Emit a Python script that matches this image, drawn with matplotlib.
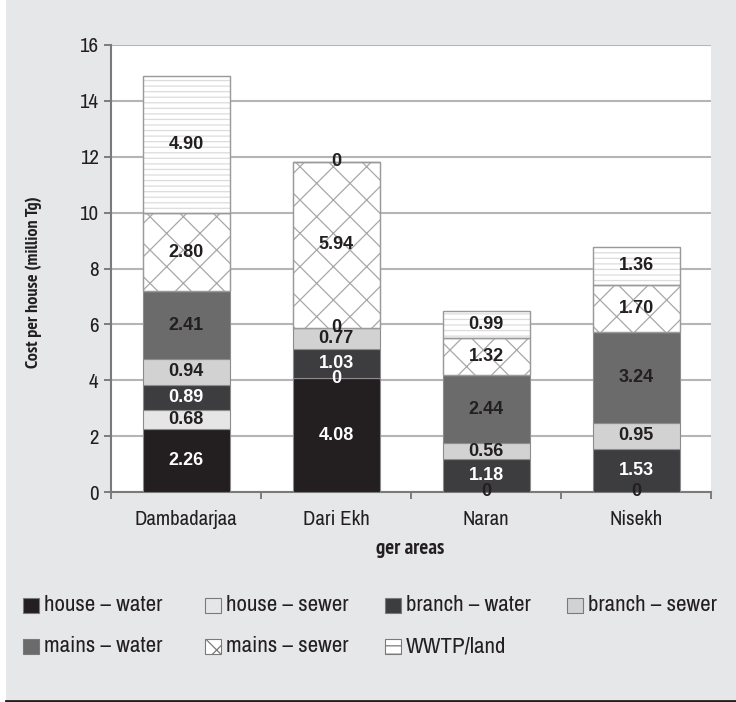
import matplotlib
matplotlib.use("Agg")
import matplotlib.pyplot as plt
from matplotlib.patches import Rectangle
from matplotlib.lines import Line2D
import numpy as np

areas = ["Dambadarjaa", "Dari Ekh", "Naran", "Nisekh"]
series = [
    "house \u2013 water",
    "house \u2013 sewer",
    "branch \u2013 water",
    "branch \u2013 sewer",
    "mains \u2013 water",
    "mains \u2013 sewer",
    "WWTP/land",
]
house_water = [2.26, 4.08, 0.0, 0.0]
house_sewer = [0.68, 0.0, 0.0, 0.0]
branch_water = [0.89, 1.03, 1.18, 1.53]
branch_sewer = [0.94, 0.77, 0.56, 0.95]
mains_water = [2.41, 0.0, 2.44, 3.24]
mains_sewer = [2.80, 5.94, 1.32, 1.70]
wwtp_land = [4.90, 0.0, 0.99, 1.36]
# Naran and Nisekh have no house-sewer label drawn
show_label = [
    [True, True, True, True],
    [True, True, False, False],
    [True, True, True, True],
    [True, True, True, True],
    [True, True, True, True],
    [True, True, True, True],
    [True, True, True, True],
]

values = [house_water, house_sewer, branch_water, branch_sewer,
          mains_water, mains_sewer, wwtp_land]
faces = ["#231f20", "#e6e6e6", "#3d3d3f", "#d2d2d2", "#6b6b6b", "white", "white"]
hatches = [None, None, None, None, None, "x", "---"]
hatch_cols = [None, None, None, None, None, "#a8a8a8", "#dcdcdc"]
dark = [True, False, True, False, False, False, False]

condensed = ["Archivo Narrow", "DejaVu Sans"]
condensed_bold = ["PT Sans Narrow", "Archivo Narrow", "DejaVu Sans"]
plt.rcParams["hatch.linewidth"] = 0.9

W, H = 736, 702
fig = plt.figure(figsize=(W / 100, H / 100), dpi=100, facecolor="#e6e7e9")
fig.patches.append(Rectangle((0, 0), 6 / W, 1, transform=fig.transFigure,
                             facecolor="white", edgecolor="none", zorder=-5))
fig.add_artist(Line2D([6 / W, 1], [1.5 / H, 1.5 / H], color="#231f20",
                      lw=2, transform=fig.transFigure))

ax = fig.add_axes([111 / W, 210 / H, 600 / W, 447 / H])
ax.set_facecolor("white")

x = np.arange(len(areas))
width = 0.58
bottom = np.zeros(len(areas))
for i, vals in enumerate(values):
    vals = np.array(vals)
    ax.bar(x, vals, width, bottom=bottom, color=faces[i],
           edgecolor=hatch_cols[i] or "#8c8c8c", linewidth=0.8,
           hatch=hatches[i], zorder=3)
    if hatches[i]:
        # outline drawn separately so the hatch can stay lighter
        ax.bar(x, vals, width, bottom=bottom, fill=False,
               edgecolor="#9a9a9a", linewidth=1.0, zorder=4)
    for j, v in enumerate(vals):
        if not show_label[i][j]:
            continue
        y = bottom[j] + v / 2
        if v == 0:
            below_dark = i > 0 and bottom[j] > 0 and dark[i - 1]
            col = "white" if below_dark else "#231f20"
        else:
            col = "white" if dark[i] else "#231f20"
        txt = "0" if v == 0 else f"{v:.2f}"
        ax.text(x[j], y, txt, ha="center", va="center", fontsize=13,
                fontweight="bold", color=col,
                family=["Liberation Sans", "DejaVu Sans"], zorder=6)
    bottom += vals

ax.set_ylim(0, 16)
ax.set_xlim(-0.5, len(areas) - 0.5)
ax.set_yticks(range(0, 17, 2))
ax.set_xticks(x)
ax.set_xticklabels(areas, family=condensed, fontsize=15, color="#231f20")
ax.set_xticks(np.arange(-0.5, len(areas)), minor=True)
ax.tick_params(axis="x", which="major", length=0, pad=13)
ax.tick_params(axis="x", which="minor", length=5, width=1.2, color="#6b6b6b",
               direction="out")
ax.tick_params(axis="y", length=5, width=1.2, color="#6b6b6b", pad=4)
for lab in ax.get_yticklabels():
    lab.set_family(condensed)
    lab.set_fontsize(15)
    lab.set_color("#231f20")
ax.grid(axis="y", color="#b5b5b5", linewidth=1.5, zorder=0)
ax.set_axisbelow(True)
for side in ["top", "right"]:
    ax.spines[side].set_visible(False)
for side in ["left", "bottom"]:
    ax.spines[side].set_color("#7a7a7a")
    ax.spines[side].set_linewidth(1.5)

ax.set_ylabel("Cost per house (million Tg)", family=condensed_bold, fontsize=13,
              fontweight="bold", color="#231f20")
ax.yaxis.set_label_coords(-0.115, 0.47)
fig.text(410 / W, 1 - 549 / H, "ger areas", family=condensed_bold, fontsize=15,
         fontweight="bold", color="#231f20", ha="center", va="center")

# legend laid out as a fixed grid of swatches and labels
col_x = [23, 205, 385, 567]
row_y = [605, 646]
for k in range(len(series)):
    px = col_x[k % 4]
    py = row_y[k // 4]
    sw = Rectangle((px / W, 1 - (py + 7.5) / H), 16 / W, 15 / H,
                   transform=fig.transFigure, facecolor=faces[k],
                   edgecolor="#7a7a7a", linewidth=0.8,
                   hatch="x" if k == 5 else ("--" if k == 6 else None))
    fig.patches.append(sw)
    fig.text((px + 21) / W, 1 - py / H, series[k], family=condensed, fontsize=16.5,
             color="#231f20", ha="left", va="center")

fig.savefig("out.png", dpi=100, facecolor=fig.get_facecolor())
